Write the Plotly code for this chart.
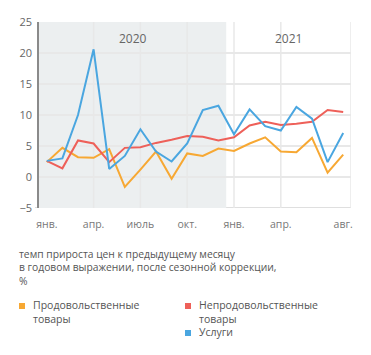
import plotly.graph_objects as go

months = list(range(20))  # Jan 2020 .. Aug 2021
food = [2.4, 4.7, 3.2, 3.1, 4.5, -1.6, 1.2, 4.1, -0.3, 3.8, 3.4, 4.6,
        4.2, 5.4, 6.4, 4.1, 4.0, 6.3, 0.7, 3.6]
nonfood = [2.6, 1.4, 5.9, 5.4, 2.4, 4.7, 4.8, 5.5, 6.0, 6.6, 6.5, 5.9,
           6.4, 8.3, 8.9, 8.4, 8.6, 8.9, 10.8, 10.5]
services = [2.6, 3.0, 10.0, 20.6, 1.3, 3.4, 7.7, 4.1, 2.5, 5.4, 10.8, 11.5,
            6.9, 10.9, 8.2, 7.5, 11.3, 9.4, 2.4, 7.1]

tick_vals = [0, 3, 6, 9, 12, 15, 19]
tick_text = ["янв.", "апр.", "июль", "окт.", "янв.", "апр.", "авг."]
grid_x = [3, 6, 9, 12, 15, 19.5]
years = ["2020", "2021"]
year_x = [5.5, 15.5]

names = ["Продовольственные<br>товары", "Непродовольственные<br>товары", "Услуги"]
colors = ["#F7A833", "#EE6059", "#4AA6E0"]

FONT = "Open Sans"
W, H = 371, 355
L, R, T, B = 39, 20, 22, 147
PW, PH = W - L - R, H - T - B

def px(x):
    return (x - L) / PW

def py(y):
    return (H - B - y) / PH

fig = go.Figure()
for series, nm, c in zip([food, nonfood, services], names, colors):
    fig.add_trace(go.Scatter(x=months, y=series, mode="lines", name=nm,
                             line=dict(color=c, width=2), showlegend=False))

shapes = [dict(type="rect", xref="x", yref="y", x0=-0.5, x1=11.5, y0=-5, y1=25,
               fillcolor="#ECEFF0", line=dict(width=0), layer="below")]
for gx in grid_x:
    shapes.append(dict(type="line", xref="x", yref="y", x0=gx, x1=gx, y0=-5.6, y1=25,
                       line=dict(color="#E8E8E8", width=1.5), layer="below"))
shapes.append(dict(type="line", xref="paper", yref="y", x0=px(35), x1=1, y0=-5, y1=-5,
                   line=dict(color="#D5D5D5", width=1.5), layer="below"))

annotations = []
for yt, yx in zip(years, year_x):
    annotations.append(dict(x=yx, y=22.4, xref="x", yref="y", text=yt, showarrow=False,
                            font=dict(family=FONT, size=12, color="#666")))

annotations.append(dict(x=px(17), y=py(245), xref="paper", yref="paper",
                        xanchor="left", yanchor="top", align="left", showarrow=False,
                        text="темп прироста цен к предыдущему месяцу<br>в годовом выражении, после сезонной коррекции,<br>%",
                        font=dict(family=FONT, size=10.3, color="#555")))

leg_pos = [(22, 306), (188, 306), (188, 333)]
for (lx, ly), nm, c in zip(leg_pos, names, colors):
    shapes.append(dict(type="rect", xref="paper", yref="paper",
                       x0=px(lx - 3), x1=px(lx + 3), y0=py(ly + 3), y1=py(ly - 3),
                       fillcolor=c, line=dict(width=0)))
    annotations.append(dict(x=px(lx + 10), y=py(ly - 9), xref="paper", yref="paper",
                            xanchor="left", yanchor="top", align="left", showarrow=False,
                            borderpad=0,
                            text=nm, font=dict(family=FONT, size=10.5, color="#555")))

fig.update_layout(
    width=W, height=H, margin=dict(l=L, r=R, t=T, b=B),
    paper_bgcolor="white", plot_bgcolor="white",
    font=dict(family=FONT, color="#666"),
    shapes=shapes, annotations=annotations,
    xaxis=dict(range=[-0.5, 19.5], tickvals=tick_vals, ticktext=tick_text,
               showgrid=False, zeroline=False, showline=False, ticks="",
               ticklabelstandoff=8, tickfont=dict(family=FONT, size=10.5, color="#777"),
               fixedrange=True),
    yaxis=dict(range=[-5, 25], tickvals=[-5, 0, 5, 10, 15, 20, 25],
               showgrid=True, gridcolor="#E8E8E8", gridwidth=1.5, zeroline=False,
               showline=True, linecolor="#8A8A8A", linewidth=1.5, ticks="",
               ticklabelstandoff=3, tickfont=dict(family=FONT, size=11, color="#666"),
               fixedrange=True),
)

fig.write_html("out.html", config={"displayModeBar": False},
               post_script="document.body.style.margin='0';")
